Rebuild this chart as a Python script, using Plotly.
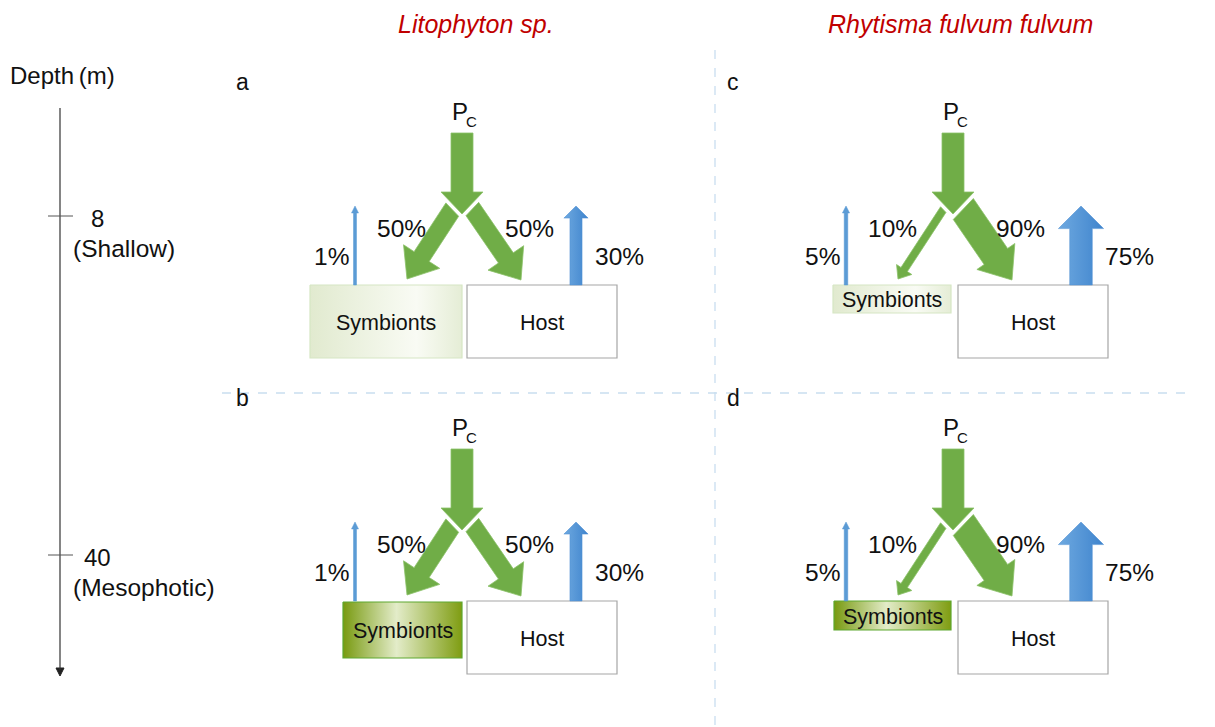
import numpy as np
import plotly.graph_objects as go

# ---------------- data ----------------
panels = ["a", "b", "c", "d"]
species = ["Litophyton sp.", "Rhytisma fulvum fulvum"]
panel_species = [0, 0, 1, 1]
panel_depth = [0, 1, 0, 1]
depth_values = [8, 40]
depth_names = ["(Shallow)", "(Mesophotic)"]
pc_to_symbionts = [50, 50, 10, 10]   # % of Pc translocated to symbionts
pc_to_host = [50, 50, 90, 90]        # % of Pc translocated to host
symbiont_release = [1, 1, 5, 5]      # % released by symbionts
host_release = [30, 30, 75, 75]      # % released by host

# ---------------- layout constants ----------------
W, H = 1215, 727
panel_origin = {"a": (462, 133), "b": (462, 449), "c": (953, 133), "d": (953, 449)}
# symbiont box relative to origin: (x0, x1, y0, y1)
sym_box = {"a": (-152, 0, 152, 225), "b": (-119, 0, 153, 209),
           "c": (-120, -2, 152, 180), "d": (-119, -2, 152, 181)}
host_box = (5, 155, 152, 225)
thick_dx = {"a": 114, "b": 114, "c": 128, "d": 128}
thin_dx = -107
depth_tick_y = [216, 555]
IN_SHAFT, IN_HEAD, IN_HL, IN_LEN = 22, 42, 22, 81

GREEN = "#70ad47"
GREEN_EDGE = "#8cc26a"
BLUE = "#5b9bd5"
FONT = "Liberation Sans, Arial, sans-serif"

fig = go.Figure()


def arrow_poly(x0, y0, x1, y1, w, hw, hl, cut=None):
    """Arrow polygon from (x0,y0) to tip (x1,y1). Optional cut=(point, normal, gap)
    trims the tail along a slanted line."""
    p0 = np.array([x0, y0], float)
    p1 = np.array([x1, y1], float)
    d = p1 - p0
    d /= np.linalg.norm(d)
    n = np.array([-d[1], d[0]])
    base = p1 - d * hl
    a = p0 + n * w / 2
    b = p0 - n * w / 2
    if cut is not None:
        T, m, g = cut
        m = m / np.linalg.norm(m)
        a = a + d * ((g - (a - T) @ m) / (d @ m))
        b = b + d * ((g - (b - T) @ m) / (d @ m))
    pts = [a, base + n * w / 2, base + n * hw / 2, p1,
           base - n * hw / 2, base - n * w / 2, b, a]
    return [p[0] for p in pts], [p[1] for p in pts]


def add_poly(xs, ys, fill, edge, grad=None, lw=1):
    kw = dict(x=xs, y=ys, mode="lines", fill="toself",
              line=dict(color=edge, width=lw), hoverinfo="skip", showlegend=False)
    if grad is not None:
        kw["fillgradient"] = dict(type="horizontal", colorscale=grad)
    else:
        kw["fillcolor"] = fill
    fig.add_trace(go.Scatter(**kw))


annotations = []


def text(x, y, s, size, color="#111111", xanchor="center", italic=False):
    annotations.append(dict(x=x, y=y, xref="x", yref="y", text=s, showarrow=False,
                            xanchor=xanchor, yanchor="middle",
                            font=dict(family=FONT, size=size, color=color,
                                      style="italic" if italic else "normal")))


shapes = []

# dividers
shapes.append(dict(type="line", x0=715, x1=715, y0=50, y1=H, xref="x", yref="y",
                   line=dict(color="#c9def0", width=1.3, dash="dash")))
shapes.append(dict(type="line", x0=222, x1=1190, y0=393, y1=393, xref="x", yref="y",
                   line=dict(color="#c9def0", width=1.3, dash="dash")))

# species titles
text(476, 24, species[0], 25, color="#c00000", italic=True)
text(960, 24, species[1], 25, color="#c00000", italic=True)

# depth axis
shapes.append(dict(type="line", x0=60, x1=60, y0=108, y1=670, xref="x", yref="y",
                   line=dict(color="#333333", width=1.2)))
add_poly([56, 64, 60, 56], [668, 668, 676, 668], "#222222", "#222222")
text(62, 75, "Depth\u2009(m)", 24)
for yv, dv, dn in zip(depth_tick_y, depth_values, depth_names):
    shapes.append(dict(type="line", x0=48, x1=73, y0=yv, y1=yv, xref="x", yref="y",
                       line=dict(color="#555555", width=1)))
    text(97, yv + 2, str(dv), 24)
    text(71, yv + 32, dn, 24.5, xanchor="left")


def green_w(p):
    return 5 + 0.26 * p


def blue_w(p):
    return max(3.0, 1.2 * p ** 0.68)


sym_pale = [[0, "#e1eacf"], [0.7, "#f9fbf4"], [1, "#e5edd6"]]
sym_dark = [[0, "#789a10"], [0.45, "#e3ecc9"], [1, "#7f9d12"]]
blue_grad = [[0, "#6ea9e0"], [1, "#3f84cd"]]

for i, p in enumerate(panels):
    cx, ty = panel_origin[p]
    tip = np.array([cx, ty + IN_LEN], float)
    # panel letter
    text(cx - 228, ty - 51, p, 23, xanchor="left")
    # P_c label
    text(cx - 2, ty - 22, "P", 24)
    text(cx + 9, ty - 12, "C", 15)

    # Pc input arrow
    xs, ys = arrow_poly(cx, ty, cx, ty + IN_LEN, IN_SHAFT, IN_HEAD, IN_HL)
    add_poly(xs, ys, GREEN, GREEN_EDGE, lw=0.8)

    # to symbionts (tail cut parallel to the left edge of the input arrow head)
    w = green_w(pc_to_symbionts[i])
    hw = min(2.4 * w, 46)
    cut_l = (tip, np.array([-IN_HL, IN_HEAD / 2]), 4.0)
    xs, ys = arrow_poly(cx - 10, ty + 77, cx - 55, ty + 146, w, hw, 0.62 * hw, cut=cut_l)
    add_poly(xs, ys, GREEN, GREEN_EDGE, lw=0.8)
    text(cx - 61, ty + 95, f"{pc_to_symbionts[i]}%", 24.5)

    # to host
    w = green_w(pc_to_host[i])
    hw = min(2.4 * w, 46)
    cut_r = (tip, np.array([IN_HL, IN_HEAD / 2]), 4.0)
    xs, ys = arrow_poly(cx + 11, ty + 77, cx + 59, ty + 147, w, hw, 0.62 * hw, cut=cut_r)
    add_poly(xs, ys, GREEN, GREEN_EDGE, lw=0.8)
    text(cx + 67, ty + 95, f"{pc_to_host[i]}%", 24.5)

    # symbiont box
    bx0, bx1, by0, by1 = sym_box[p]
    dark = panel_depth[i] == 1
    add_poly([cx + bx0, cx + bx1, cx + bx1, cx + bx0, cx + bx0],
             [ty + by0, ty + by0, ty + by1, ty + by1, ty + by0],
             None, "#5ea830" if dark else "#d6e6c4",
             grad=sym_dark if dark else sym_pale, lw=1.2)
    text(cx + (bx0 + bx1) / 2, ty + (by0 + by1) / 2 + 1, "Symbionts", 21.5)

    # host box
    hx0, hx1, hy0, hy1 = host_box
    shapes.append(dict(type="rect", x0=cx + hx0, x1=cx + hx1, y0=ty + hy0, y1=ty + hy1,
                       xref="x", yref="y", line=dict(color="#a6a6a6", width=1.2),
                       fillcolor="white", layer="below"))
    text(cx + (hx0 + hx1) / 2, ty + (hy0 + hy1) / 2 + 1, "Host", 21.5)

    # symbiont release (thin blue)
    w = blue_w(symbiont_release[i])
    hw = max(7, 2 * w)
    xs, ys = arrow_poly(cx + thin_dx, ty + 152, cx + thin_dx, ty + 73, w, hw, max(7, w))
    add_poly(xs, ys, BLUE, BLUE, lw=0.5)
    text(cx + thin_dx - 24, ty + 123, f"{symbiont_release[i]}%", 24.5)

    # host release (thick blue)
    w = blue_w(host_release[i])
    hw = 2 * w
    tx = cx + thick_dx[p]
    xs, ys = arrow_poly(tx, ty + 152, tx, ty + 73, w, hw, w)
    add_poly(xs, ys, None, "#4f8fd2", grad=blue_grad, lw=0.5)
    text(tx + w / 2 + 11, ty + 123, f"{host_release[i]}%", 24.5, xanchor="left")

fig.update_layout(
    width=W, height=H, margin=dict(l=0, r=0, t=0, b=0),
    paper_bgcolor="white", plot_bgcolor="white",
    xaxis=dict(range=[0, W], visible=False, fixedrange=True),
    yaxis=dict(range=[H, 0], visible=False, fixedrange=True),
    shapes=shapes, annotations=annotations, showlegend=False,
)

fig.write_html("out.html", config={"displayModeBar": False},
               post_script="document.body.style.margin='0px';"
                           "document.body.style.overflow='hidden';")
